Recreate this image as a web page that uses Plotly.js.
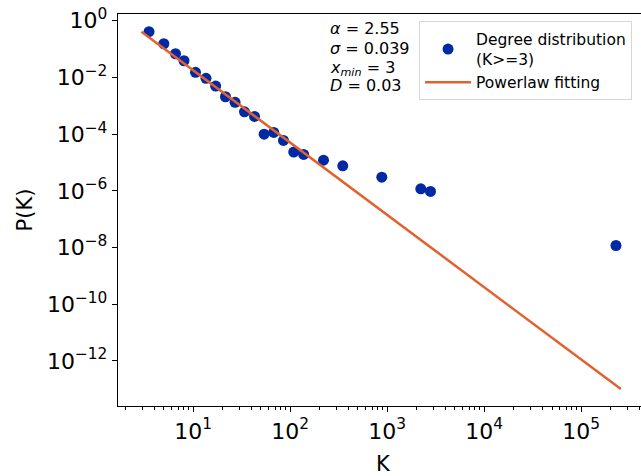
<!DOCTYPE html>
<html><head><meta charset="utf-8">
<script src="https://cdn.plot.ly/plotly-3.0.1.min.js"></script>
<style>html,body{margin:0;padding:0;overflow:hidden;background:#fff}#chart{width:660px;height:476px}</style>
</head><body><div id="chart"></div>
<script>
// Degree distribution (log-binned)
const degreeK = [3.52, 5.0, 6.6, 8.07, 10.6, 13.6, 17.1, 21.6, 27.1, 33.9, 43.0, 54.0, 67.9, 85.5, 109, 138, 221, 349, 881, 2222, 2798, 228000];
const probPK  = [0.409, 0.154, 0.0684, 0.0387, 0.0151, 0.00927, 0.00495, 0.00208, 0.00132, 6.14e-4, 4.22e-4, 1.0e-4, 1.15e-4, 6.0e-5, 2.32e-5, 1.92e-5, 1.21e-5, 7.62e-6, 3.04e-6, 1.18e-6, 9.5e-7, 1.18e-8];
// Power-law fit line end points
const fitK  = [2.94, 256000];
const fitPK = [0.409, 1.02e-13];
// Tick labels
const xTickVals = [10, 100, 1000, 10000, 100000];
const xTickText = ['10<sup>1</sup>', '10<sup>2</sup>', '10<sup>3</sup>', '10<sup>4</sup>', '10<sup>5</sup>'];
const yTickVals = [1, 1e-2, 1e-4, 1e-6, 1e-8, 1e-10, 1e-12];
const yTickText = ['10<sup>0</sup>', '10<sup>\u22122</sup>', '10<sup>\u22124</sup>', '10<sup>\u22126</sup>', '10<sup>\u22128</sup>', '10<sup>\u221210</sup>', '10<sup>\u221212</sup>'];
// Fit statistics, one line each
const statsLines = ['<i>\u03b1</i> = 2.55', '<i>\u03c3</i> = 0.039', '<i>x</i><sub><i>min</i></sub> = 3', '<i>D</i> = 0.03'];
const statsLineY = [0.963, 0.911, 0.861, 0.818];

const FONT = 'DejaVu Sans, sans-serif';

const traces = [
  {x: degreeK, y: probPK, type: 'scatter', mode: 'markers', name: 'Degree distribution<br>(K>=3)',
   marker: {color: '#0029a3', size: 11}},
  {x: fitK, y: fitPK, type: 'scatter', mode: 'lines', name: 'Powerlaw fitting',
   line: {color: '#e0622c', width: 2.5}}
];

const axisCommon = {
  type: 'log', showline: true, linecolor: '#000', linewidth: 1.2, mirror: true,
  ticks: 'outside', ticklen: 5, tickwidth: 1, tickcolor: '#000',
  tickmode: 'array', showgrid: false, zeroline: false,
  tickfont: {family: FONT, size: 22, color: '#000'}
};

const layout = {
  width: 660, height: 476,
  margin: {l: 118, r: 12, t: 14, b: 70, pad: 0},
  paper_bgcolor: '#fff', plot_bgcolor: '#fff',
  font: {family: FONT, color: '#000'},
  showlegend: true,
  xaxis: Object.assign({}, axisCommon, {
    range: [0.2268, 5.688], tickvals: xTickVals, ticktext: xTickText,
    title: {text: 'K', font: {family: FONT, size: 21, color: '#000'}, standoff: 13},
    minor: {ticks: 'outside', ticklen: 3, tickwidth: 1, tickcolor: '#000', dtick: 'D1', showgrid: false}
  }),
  yaxis: Object.assign({}, axisCommon, {
    range: [-13.588, 0.2365], tickvals: yTickVals, ticktext: yTickText,
    title: {text: 'P(K)', font: {family: FONT, size: 21, color: '#000'}, standoff: 8}
  }),
  legend: {x: 0.568, y: 0.981, xanchor: 'left', yanchor: 'top', bgcolor: '#fff',
    bordercolor: '#d6d6d6', borderwidth: 1, itemwidth: 46,
    font: {family: FONT, size: 15.5, color: '#000'}},
  annotations: statsLines.map((t, i) => ({
    xref: 'paper', yref: 'paper', x: 0.398, y: statsLineY[i], xanchor: 'left', yanchor: 'middle',
    align: 'left', showarrow: false, text: t, borderpad: 0,
    font: {family: FONT, size: 16, color: '#000'}
  }))
};

Plotly.newPlot('chart', traces, layout, {staticPlot: true, displayModeBar: false});
</script>
</body></html>
